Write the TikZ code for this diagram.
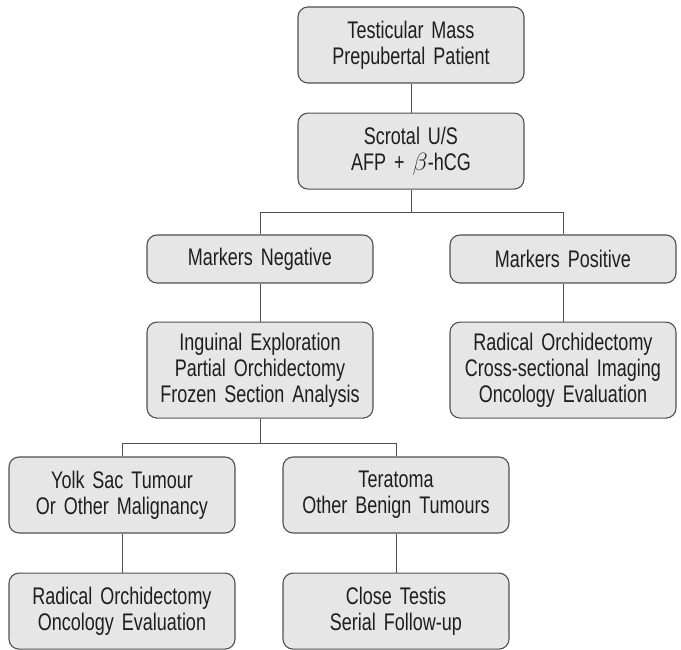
\documentclass[tikz,border=0pt]{standalone}
\usepackage{fontspec}
\setmainfont[FakeStretch=0.75,WordSpace=0.6]{Liberation Sans}
\usetikzlibrary{positioning}
\definecolor{boxfill}{HTML}{E6E6E6}
\definecolor{boxline}{HTML}{505050}
\definecolor{txt}{HTML}{1E1E1E}

\begin{document}
\begin{tikzpicture}[
    x=1pt, y=1pt,
    % define styles
    step box/.style={
         draw=boxline,
         fill=boxfill,
         line width=1.1pt,
         rounded corners=10pt,
         minimum width=226pt,
         text width=220pt,
         align=center,
         inner sep=0pt,
         text=txt,
         font=\fontsize{24}{26}\selectfont
    },
    two/.style={minimum height=76pt},
    one/.style={minimum height=48pt},
    three/.style={minimum height=96pt},
    link/.style={draw=boxline, line width=0.9pt}
]
\useasboundingbox (0,0) rectangle (681,650);
% Top of the tree
\node[step box,two] at (411,605) (mass) {Testicular Mass\\Prepubertal Patient};
\node[step box,two,below=29pt of mass] (scan) {Scrotal U/S\\AFP + $\beta$-hCG};
% Markers branch
\node[step box,one] at (260,391) (neg) {Markers Negative};
\node[step box,three,below=38pt of neg] (explore) {Inguinal Exploration\\Partial Orchidectomy\\Frozen Section Analysis};
\node[step box,one] at (563,391) (pos) {Markers Positive};
\node[step box,three,below=38pt of pos] (radical) {Radical Orchidectomy\\Cross-sectional Imaging\\Oncology Evaluation};
% Frozen section outcome
\node[step box,two] at (122,155) (yolk) {Yolk Sac Tumour\\Or Other Malignancy};
\node[step box,two,below=39pt of yolk] (onco) {Radical Orchidectomy\\Oncology Evaluation};
\node[step box,two] at (396,155) (tera) {Teratoma\\Other Benign Tumours};
\node[step box,two,below=39pt of tera] (close) {Close Testis\\Serial Follow-up};

% Connectors
\draw[link] (mass) -- (scan);
\draw[link] (scan.south) -- ++(0,-23) coordinate (split1);
\draw[link] (split1) -| (neg.north);
\draw[link] (split1) -| (pos.north);
\draw[link] (neg) -- (explore);
\draw[link] (pos) -- (radical);
\draw[link] (explore.south) -- ++(0,-25) coordinate (split2);
\draw[link] (split2) -| (yolk.north);
\draw[link] (split2) -| (tera.north);
\draw[link] (yolk) -- (onco);
\draw[link] (tera) -- (close);
\end{tikzpicture}
\end{document}
